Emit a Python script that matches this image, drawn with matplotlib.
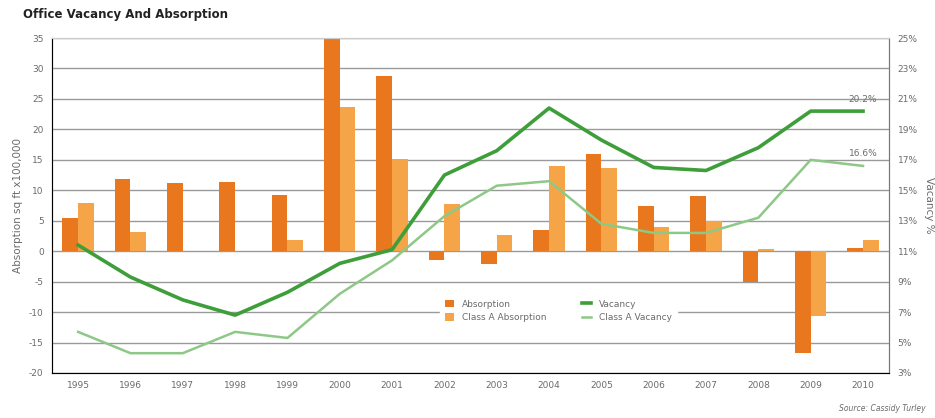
import matplotlib
matplotlib.use("Agg")
import matplotlib.pyplot as plt
import numpy as np

plt.rcParams["axes.unicode_minus"] = False

years = ["1995", "1996", "1997", "1998", "1999", "2000", "2001", "2002",
         "2003", "2004", "2005", "2006", "2007", "2008", "2009", "2010"]
absorption = [5.5, 11.9, 11.2, 11.4, 9.2, 35.0, 28.7, -1.4,
              -2.1, 3.5, 16.0, 7.5, 9.0, -5.1, -16.7, 0.6]
class_a_absorption = [7.9, 3.2, 0.0, 0.0, 1.9, 23.6, 15.2, 7.8,
                      2.7, 14.0, 13.6, 3.9, 4.9, 0.3, -10.6, 1.9]
vacancy = [11.4, 9.3, 7.8, 6.8, 8.3, 10.2, 11.1, 16.0,
           17.6, 20.4, 18.3, 16.5, 16.3, 17.8, 20.2, 20.2]
class_a_vacancy = [5.7, 4.3, 4.3, 5.7, 5.3, 8.2, 10.4, 13.3,
                   15.3, 15.6, 12.8, 12.2, 12.2, 13.2, 17.0, 16.6]
left_ticks = list(range(-20, 40, 5))
right_ticks = list(range(3, 27, 2))

c_abs = "#E8771E"
c_abs_a = "#F5A548"
c_vac = "#3E9E3A"
c_vac_a = "#8DC887"
grey = "#6b6b6b"

fig = plt.figure(figsize=(9.35, 4.18), dpi=100)
ax = fig.add_axes([0.0556, 0.1077, 0.8954, 0.8013])
x = np.arange(len(years)) + 0.5
w = 0.3

ax.set_xlim(0, len(years))
ax.set_ylim(-20, 35)
ax.set_yticks(left_ticks)
ax.yaxis.grid(True, color="#9a9a9a", linewidth=1.0)
ax.set_axisbelow(True)

ax.bar(x - w / 2, absorption, width=w, color=c_abs, label="Absorption", zorder=2)
ax.bar(x + w / 2, class_a_absorption, width=w, color=c_abs_a,
       label="Class A Absorption", zorder=2)

ax.set_xticks(x)
ax.set_xticklabels(years)
ax.tick_params(axis="both", length=0, labelsize=6.5, labelcolor=grey, pad=6)
ax.set_ylabel("Absorption sq ft x100,000", fontsize=7.5, color=grey, labelpad=4)

ax.spines["top"].set_color("#cccccc")
for s in ["left", "bottom", "right"]:
    ax.spines[s].set_color("#777777")

ax2 = ax.twinx()
ax2.set_ylim(3, 25)
ax2.set_yticks(right_ticks)
ax2.set_yticklabels([f"{t}%" for t in right_ticks])
ax2.tick_params(axis="y", length=0, labelsize=6.5, labelcolor=grey, pad=6)
ax2.plot(x, vacancy, color=c_vac, linewidth=2.6, label="Vacancy", zorder=3)
ax2.plot(x, class_a_vacancy, color=c_vac_a, linewidth=1.8, label="Class A Vacancy", zorder=3)
ax2.set_ylabel("Vacancy %", fontsize=7.5, color=grey, rotation=270, labelpad=12)
ax2.spines["right"].set_color("#777777")
ax2.spines["top"].set_color("#cccccc")

ax2.annotate(f"{vacancy[-1]:.1f}%", (x[-1], vacancy[-1]), xytext=(0, 5),
             textcoords="offset points", ha="center", va="bottom",
             fontsize=6.5, color=grey)
ax2.annotate(f"{class_a_vacancy[-1]:.1f}%", (x[-1], class_a_vacancy[-1]), xytext=(0, 6),
             textcoords="offset points", ha="center", va="bottom",
             fontsize=6.5, color=grey)

h1, l1 = ax.get_legend_handles_labels()
h2, l2 = ax2.get_legend_handles_labels()
leg = ax2.legend([h1[0], h1[1], h2[0], h2[1]], [l1[0], l1[1], l2[0], l2[1]],
                 ncol=2, loc="center", bbox_to_anchor=(0.605, 0.185),
                 frameon=True, fontsize=6.5, handlelength=1.0, handleheight=0.9,
                 columnspacing=4.0, borderpad=0.6, labelspacing=0.5,
                 borderaxespad=0)
leg.get_frame().set_facecolor("white")
leg.get_frame().set_edgecolor("white")
leg.get_frame().set_alpha(1)
for t in leg.get_texts():
    t.set_color(grey)

fig.text(0.025, 0.965, "Office Vacancy And Absorption", fontsize=8.5,
         fontweight="bold", color="#222222", va="center", ha="left")
fig.text(0.99, 0.022, "Source: Cassidy Turley", fontsize=5.5, color=grey,
         style="italic", ha="right", va="center")

fig.savefig("out.png", dpi=100)
